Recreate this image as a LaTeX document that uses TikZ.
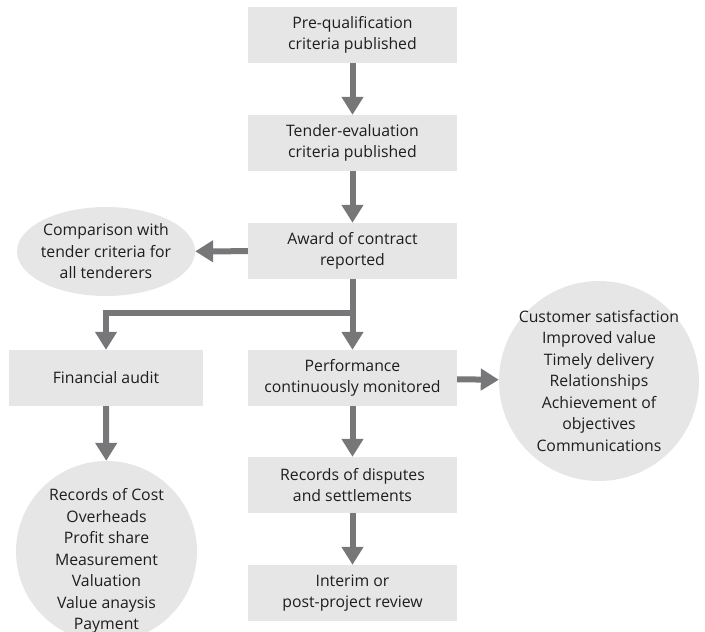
\documentclass[tikz,border=0pt]{standalone}
\usepackage{fontspec}
\setmainfont{Open Sans}
\usetikzlibrary{arrows.meta,shapes.geometric}
\definecolor{boxgray}{HTML}{E6E6E7}
\definecolor{flowgray}{HTML}{77777A}
\definecolor{ink}{HTML}{1E1E1E}
\tikzset{
  label text/.style={align=center, text=ink, font=\fontsize{15.8}{21.5}\selectfont, inner sep=0pt},
  stepbox/.style={rectangle, fill=boxgray, minimum width=209pt, minimum height=56pt, label text},
  blob/.style={fill=boxgray, inner sep=0pt},
  flow/.style={draw=flowgray, line width=6pt, line join=miter,
    -{Triangle[width=21pt,length=18pt]}}
}
\begin{document}
\begin{tikzpicture}[x=1pt,y=-1pt]
\useasboundingbox (0,0) rectangle (705,632);
% main column
\node[stepbox] (pq)  at (352.5,35)  {Pre-qualification\\criteria published};
\node[stepbox] (te)  at (352.5,143) {Tender-evaluation\\criteria published};
\node[stepbox] (aw)  at (352.5,251) {Award of contract\\reported};
\node[stepbox] (pf)  at (352.5,378) {Performance\\continuously monitored};
\node[stepbox] (rd)  at (352.5,485) {Records of disputes\\and settlements};
\node[stepbox] (ir)  at (352.5,593) {Interim or\\post-project review};
% side branches: shapes of fixed size, text set on top
\node[stepbox, minimum width=194pt] (fa) at (106,378) {Financial audit};
\node[blob, ellipse, minimum width=178pt, minimum height=89pt] (cmp) at (106,251.5) {};
\node[label text] at (cmp.center) {Comparison with\\tender criteria for\\all tenderers};
\node[blob, circle, minimum size=181pt] (cost) at (106.5,551.5) {};
\node[label text] at (106.5,561)
  {Records of Cost\\Overheads\\Profit share\\Measurement\\Valuation\\Value anaysis\\Payment};
\node[blob, circle, minimum size=200pt] (cs) at (599,381) {};
\node[label text] at (cs.center)
  {Customer satisfaction\\Improved value\\Timely delivery\\Relationships\\Achievement of\\objectives\\Communications};
% connectors
\coordinate (split) at (352.5,313);
\draw[flow] (pq) -- (te);
\draw[flow] (te) -- (aw);
\draw[flow] (aw) -- (cmp);
\draw[flow] (aw) -- (pf);
\draw[flow] (split) -| (fa);
\draw[flow] (fa) -- (cost);
\draw[flow] (pf) -- (cs);
\draw[flow] (pf) -- (rd);
\draw[flow] (rd) -- (ir);
\end{tikzpicture}
\end{document}
